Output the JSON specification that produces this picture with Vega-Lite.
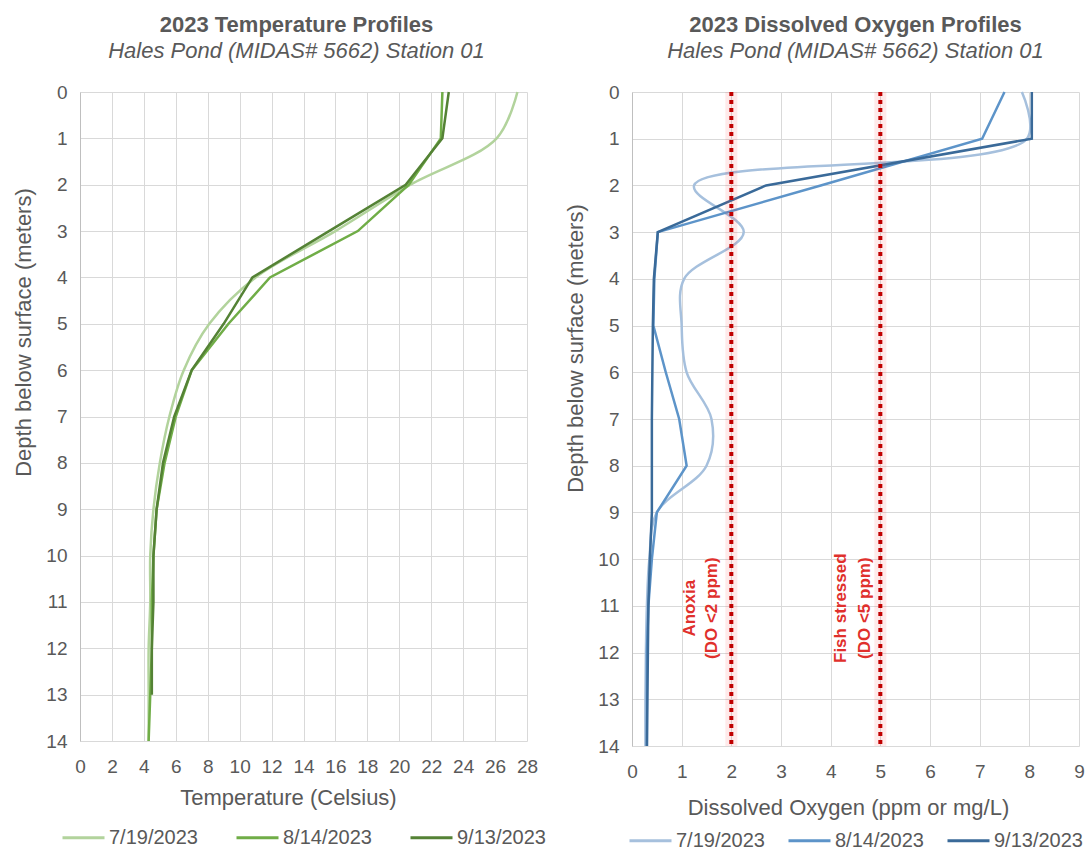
{
  "$schema": "https://vega.github.io/schema/vega-lite/v6.json",
  "background": "white",
  "padding": {"left": 12, "top": 14, "right": 0, "bottom": 0},
  "config": {
    "font": "Liberation Sans",
    "view": {"stroke": null},
    "axis": {"labelColor": "#595959", "titleColor": "#595959", "labelFontSize": 19, "titleFontSize": 22, "titleFontWeight": "normal", "gridColor": "#d9d9d9", "domainColor": "#bfbfbf", "ticks": false, "labelFlush": false},
    "axisX": {"labelPadding": 16, "titlePadding": 11},
    "axisY": {"labelPadding": 13, "titlePadding": 10},
    "legend": {"orient": "bottom", "direction": "horizontal", "symbolType": "stroke", "symbolStrokeWidth": 3, "symbolSize": 1764, "labelFontSize": 20, "labelColor": "#595959", "labelOffset": 3, "layout": {"bottom": {"anchor": "middle"}}},
    "title": {"color": "#595959", "fontSize": 22, "fontWeight": "bold", "subtitleColor": "#595959", "subtitleFontSize": 22, "subtitleFontStyle": "italic", "anchor": "middle", "subtitlePadding": 4, "offset": 20}
  },
  "datasets": {
    "temp": [
      {"date": "7/19/2023", "depth": 0, "temp": 27.4}, {"date": "7/19/2023", "depth": 1, "temp": 26.1}, {"date": "7/19/2023", "depth": 2, "temp": 20.7}, {"date": "7/19/2023", "depth": 3, "temp": 16.0}, {"date": "7/19/2023", "depth": 4, "temp": 11.0}, {"date": "7/19/2023", "depth": 5, "temp": 8.1}, {"date": "7/19/2023", "depth": 6, "temp": 6.5}, {"date": "7/19/2023", "depth": 7, "temp": 5.6}, {"date": "7/19/2023", "depth": 8, "temp": 5.0}, {"date": "7/19/2023", "depth": 9, "temp": 4.6}, {"date": "7/19/2023", "depth": 10, "temp": 4.4}, {"date": "7/19/2023", "depth": 11, "temp": 4.4}, {"date": "7/19/2023", "depth": 12, "temp": 4.3}, {"date": "7/19/2023", "depth": 13, "temp": 4.3}, {"date": "7/19/2023", "depth": 14, "temp": 4.3},
      {"date": "8/14/2023", "depth": 0, "temp": 22.7}, {"date": "8/14/2023", "depth": 1, "temp": 22.6}, {"date": "8/14/2023", "depth": 2, "temp": 20.6}, {"date": "8/14/2023", "depth": 3, "temp": 17.4}, {"date": "8/14/2023", "depth": 4, "temp": 11.9}, {"date": "8/14/2023", "depth": 5, "temp": 9.3}, {"date": "8/14/2023", "depth": 6, "temp": 7.0}, {"date": "8/14/2023", "depth": 7, "temp": 6.0}, {"date": "8/14/2023", "depth": 8, "temp": 5.3}, {"date": "8/14/2023", "depth": 9, "temp": 4.8}, {"date": "8/14/2023", "depth": 10, "temp": 4.6}, {"date": "8/14/2023", "depth": 11, "temp": 4.5}, {"date": "8/14/2023", "depth": 12, "temp": 4.5}, {"date": "8/14/2023", "depth": 13, "temp": 4.4}, {"date": "8/14/2023", "depth": 14, "temp": 4.3},
      {"date": "9/13/2023", "depth": 0, "temp": 23.1}, {"date": "9/13/2023", "depth": 1, "temp": 22.7}, {"date": "9/13/2023", "depth": 2, "temp": 20.4}, {"date": "9/13/2023", "depth": 3, "temp": 15.6}, {"date": "9/13/2023", "depth": 4, "temp": 10.8}, {"date": "9/13/2023", "depth": 5, "temp": 9.0}, {"date": "9/13/2023", "depth": 6, "temp": 7.0}, {"date": "9/13/2023", "depth": 7, "temp": 5.9}, {"date": "9/13/2023", "depth": 8, "temp": 5.2}, {"date": "9/13/2023", "depth": 9, "temp": 4.8}, {"date": "9/13/2023", "depth": 10, "temp": 4.6}, {"date": "9/13/2023", "depth": 11, "temp": 4.6}, {"date": "9/13/2023", "depth": 12, "temp": 4.5}, {"date": "9/13/2023", "depth": 13, "temp": 4.5}
    ],
    "do": [
      {"date": "7/19/2023", "depth": 0, "do": 7.85}, {"date": "7/19/2023", "depth": 1, "do": 7.95}, {"date": "7/19/2023", "depth": 2, "do": 1.25}, {"date": "7/19/2023", "depth": 3, "do": 2.25}, {"date": "7/19/2023", "depth": 4, "do": 1.05}, {"date": "7/19/2023", "depth": 5, "do": 1.0}, {"date": "7/19/2023", "depth": 6, "do": 1.1}, {"date": "7/19/2023", "depth": 7, "do": 1.6}, {"date": "7/19/2023", "depth": 8, "do": 1.5}, {"date": "7/19/2023", "depth": 9, "do": 0.5}, {"date": "7/19/2023", "depth": 10, "do": 0.35}, {"date": "7/19/2023", "depth": 11, "do": 0.3}, {"date": "7/19/2023", "depth": 12, "do": 0.28}, {"date": "7/19/2023", "depth": 13, "do": 0.27}, {"date": "7/19/2023", "depth": 14, "do": 0.27},
      {"date": "8/14/2023", "depth": 0, "do": 7.5}, {"date": "8/14/2023", "depth": 1, "do": 7.05}, {"date": "8/14/2023", "depth": 2, "do": 3.8}, {"date": "8/14/2023", "depth": 3, "do": 0.52}, {"date": "8/14/2023", "depth": 4, "do": 0.45}, {"date": "8/14/2023", "depth": 5, "do": 0.43}, {"date": "8/14/2023", "depth": 6, "do": 0.68}, {"date": "8/14/2023", "depth": 7, "do": 0.95}, {"date": "8/14/2023", "depth": 8, "do": 1.1}, {"date": "8/14/2023", "depth": 9, "do": 0.5}, {"date": "8/14/2023", "depth": 10, "do": 0.4}, {"date": "8/14/2023", "depth": 11, "do": 0.33}, {"date": "8/14/2023", "depth": 12, "do": 0.3}, {"date": "8/14/2023", "depth": 13, "do": 0.3}, {"date": "8/14/2023", "depth": 14, "do": 0.3},
      {"date": "9/13/2023", "depth": 0, "do": 8.05}, {"date": "9/13/2023", "depth": 1, "do": 8.05}, {"date": "9/13/2023", "depth": 2, "do": 2.7}, {"date": "9/13/2023", "depth": 3, "do": 0.52}, {"date": "9/13/2023", "depth": 4, "do": 0.44}, {"date": "9/13/2023", "depth": 5, "do": 0.42}, {"date": "9/13/2023", "depth": 6, "do": 0.41}, {"date": "9/13/2023", "depth": 7, "do": 0.4}, {"date": "9/13/2023", "depth": 8, "do": 0.4}, {"date": "9/13/2023", "depth": 9, "do": 0.4}, {"date": "9/13/2023", "depth": 10, "do": 0.36}, {"date": "9/13/2023", "depth": 11, "do": 0.33}, {"date": "9/13/2023", "depth": 12, "do": 0.32}, {"date": "9/13/2023", "depth": 13, "do": 0.31}, {"date": "9/13/2023", "depth": 14, "do": 0.3}
    ],
    "thresholds": [{"do": 2}, {"do": 5}],
    "notes": [
      {"do": 1.17, "depth": 11.05, "label": "Anoxia"},
      {"do": 1.61, "depth": 11.05, "label": "(DO <2 ppm)"},
      {"do": 4.21, "depth": 11.05, "label": "Fish stressed"},
      {"do": 4.69, "depth": 11.05, "label": "(DO <5 ppm)"}
    ]
  },
  "resolve": {"scale": {"color": "independent"}, "legend": {"color": "independent"}},
  "spacing": 18,
  "hconcat": [
    {
      "width": 447,
      "height": 649,
      "title": {"text": "2023 Temperature Profiles", "subtitle": "Hales Pond (MIDAS# 5662) Station 01", "dx": -7},
      "data": {"name": "temp"},
      "encoding": {
        "x": {"field": "temp", "type": "quantitative", "scale": {"domain": [0, 28], "nice": false}, "axis": {"values": [0, 2, 4, 6, 8, 10, 12, 14, 16, 18, 20, 22, 24, 26, 28], "title": "Temperature (Celsius)", "domain": false, "titleX": 208}},
        "y": {"field": "depth", "type": "quantitative", "scale": {"domain": [0, 14], "reverse": true, "nice": false}, "axis": {"values": [0, 1, 2, 3, 4, 5, 6, 7, 8, 9, 10, 11, 12, 13, 14], "title": "Depth below surface (meters)", "titleY": 240}},
        "color": {"field": "date", "type": "nominal", "scale": {"domain": ["7/19/2023", "8/14/2023", "9/13/2023"], "range": ["#b2d39c", "#70ad47", "#548235"]}, "legend": {"title": null, "columnPadding": 32, "offset": 7}},
        "order": {"field": "depth", "type": "quantitative"}
      },
      "layer": [
        {"transform": [{"filter": "datum.date == '7/19/2023'"}], "mark": {"type": "line", "interpolate": "catmull-rom", "strokeWidth": 2.5}},
        {"transform": [{"filter": "datum.date != '7/19/2023'"}], "mark": {"type": "line", "strokeWidth": 2.5}}
      ]
    },
    {
      "width": 447,
      "height": 654,
      "title": {"text": "2023 Dissolved Oxygen Profiles", "subtitle": "Hales Pond (MIDAS# 5662) Station 01"},
      "layer": [
        {
          "data": {"name": "do"},
          "transform": [{"filter": "datum.date == '7/19/2023'"}],
          "mark": {"type": "line", "interpolate": "catmull-rom", "strokeWidth": 2.5},
          "encoding": {
            "x": {"field": "do", "type": "quantitative", "scale": {"domain": [0, 9], "nice": false}, "axis": {"values": [0, 1, 2, 3, 4, 5, 6, 7, 8, 9], "title": "Dissolved Oxygen (ppm or mg/L)", "domain": false, "titleX": 216, "titlePadding": 16}},
            "y": {"field": "depth", "type": "quantitative", "scale": {"domain": [0, 14], "reverse": true, "nice": false}, "axis": {"values": [0, 1, 2, 3, 4, 5, 6, 7, 8, 9, 10, 11, 12, 13, 14], "title": "Depth below surface (meters)", "titleY": 256}},
            "color": {"field": "date", "type": "nominal", "scale": {"domain": ["7/19/2023", "8/14/2023", "9/13/2023"], "range": ["#a6c0dd", "#5d94c9", "#3a6a99"]}, "legend": {"title": null, "columnPadding": 17, "offset": 0}},
            "order": {"field": "depth", "type": "quantitative"}
          }
        },
        {
          "data": {"name": "do"},
          "transform": [{"filter": "datum.date != '7/19/2023'"}],
          "mark": {"type": "line", "strokeWidth": 2.5},
          "encoding": {
            "x": {"field": "do", "type": "quantitative"},
            "y": {"field": "depth", "type": "quantitative"},
            "color": {"field": "date", "type": "nominal"},
            "order": {"field": "depth", "type": "quantitative"}
          }
        },
        {
          "data": {"name": "thresholds"},
          "mark": {"type": "rule", "color": "#ff3030", "strokeWidth": 12, "opacity": 0.1},
          "encoding": {"x": {"field": "do", "type": "quantitative"}}
        },
        {
          "data": {"name": "thresholds"},
          "mark": {"type": "rule", "color": "#c00000", "strokeWidth": 4, "strokeDash": [4, 4]},
          "encoding": {"x": {"field": "do", "type": "quantitative"}}
        },
        {
          "data": {"name": "notes"},
          "mark": {"type": "text", "angle": 270, "align": "center", "baseline": "middle", "color": "#e0302c", "fontSize": 17, "fontWeight": "bold"},
          "encoding": {
            "x": {"field": "do", "type": "quantitative"},
            "y": {"field": "depth", "type": "quantitative"},
            "text": {"field": "label"}
          }
        }
      ]
    }
  ]
}
